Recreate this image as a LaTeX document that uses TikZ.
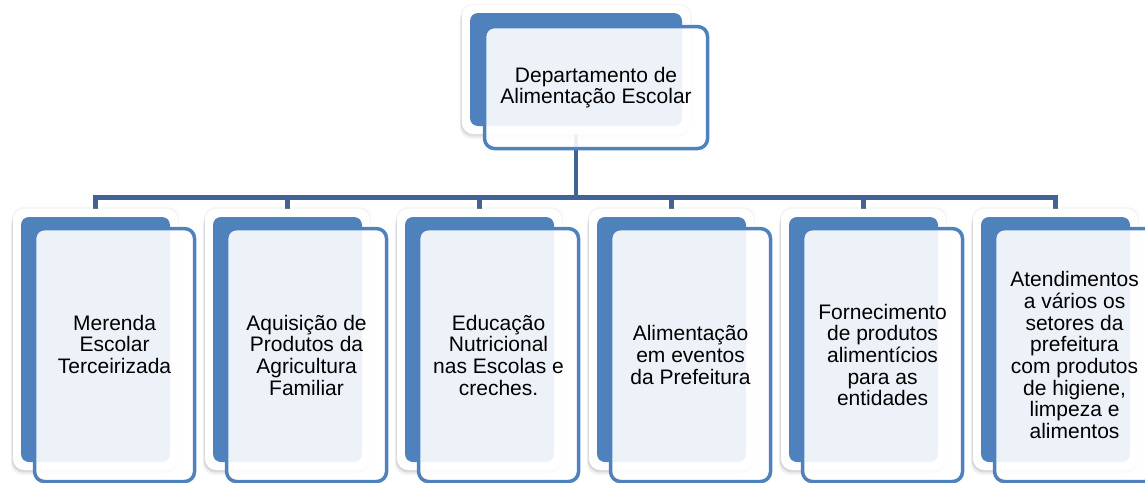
\documentclass[tikz,border=0pt]{standalone}
\usepackage{fontspec}
\setmainfont{Liberation Sans}
\usetikzlibrary{fit,shadows}
\definecolor{boxblue}{RGB}{79,129,189}
\definecolor{linkblue}{RGB}{62,99,148}
\pgfdeclarelayer{links}
\pgfdeclarelayer{cards}
\pgfsetlayers{links,cards,main}

\begin{document}
\begin{tikzpicture}[x=1pt,y=-1pt,
    back/.style={rectangle,rounded corners=8pt,fill=boxblue,inner sep=0pt,
      minimum width=149pt,minimum height=245pt},
    front/.style={rectangle,rounded corners=10pt,draw=boxblue,line width=3.5pt,
      fill=white,fill opacity=0.9,text opacity=1,inner sep=0pt,anchor=north west,
      minimum width=160pt,minimum height=253pt,align=center,
      font=\fontsize{21}{21.7}\selectfont},
    card/.style={rectangle,rounded corners=12pt,fill=white,inner sep=8pt,
      drop shadow={opacity=0.12,shadow xshift=-2pt,shadow yshift=-4.5pt},
      drop shadow={opacity=0.14,shadow xshift=-1pt,shadow yshift=-2.5pt},
      drop shadow={opacity=0.07,shadow xshift=0pt,shadow yshift=0pt,shadow scale=1.015}},
    link/.style={draw=linkblue,line width=4.5pt}]

  \useasboundingbox (0,0) rectangle (1145,482);

  % head of the department
  \node[back,minimum width=212pt,minimum height=113pt] (tb) at (576,69.5) {};
  \node[front,minimum width=223pt,minimum height=122pt] (tf)
    at ([shift={(13,12)}]tb.north west) {Departamento de\\Alimentação Escolar};

  % the six sectors
  \node[back] (b1) at (95.5,339.5) {};
  \node[front] (f1) at ([shift={(12,10)}]b1.north west) {Merenda\\Escolar\\Terceirizada\\\mbox{}};
  \node[back] (b2) at (287.5,339.5) {};
  \node[front] (f2) at ([shift={(12,10)}]b2.north west) {Aquisição de\\Produtos da\\Agricultura\\Familiar};
  \node[back] (b3) at (479.5,339.5) {};
  \node[front] (f3) at ([shift={(12,10)}]b3.north west) {Educação\\Nutricional\\nas Escolas e\\creches.};
  \node[back] (b4) at (671.5,339.5) {};
  \node[front] (f4) at ([shift={(12,10)}]b4.north west) {Alimentação\\em eventos\\da Prefeitura};
  \node[back] (b5) at (863.5,339.5) {};
  \node[front] (f5) at ([shift={(12,10)}]b5.north west) {Fornecimento\\de produtos\\alimentícios\\para as\\entidades};
  \node[back] (b6) at (1055.5,339.5) {};
  \node[front] (f6) at ([shift={(12,10)}]b6.north west) {Atendimentos\\a vários os\\setores da\\prefeitura\\com produtos\\de higiene,\\limpeza e\\alimentos};

  \begin{pgfonlayer}{cards}
    \foreach \n in {tb,b1,b2,b3,b4,b5,b6}
      \node[card,fit=(\n)] (\n card) {};
  \end{pgfonlayer}

  \begin{pgfonlayer}{links}
    \coordinate (bar) at (576,197.5);
    \draw[link] (tb.south) -- (bar);
    \draw[link] (b1.north) |- (bar) -| (b6.north);
    \foreach \n in {b2,b3,b4,b5}
      \draw[link] (\n.north) -- (\n.north |- bar);
  \end{pgfonlayer}

\end{tikzpicture}
\end{document}
